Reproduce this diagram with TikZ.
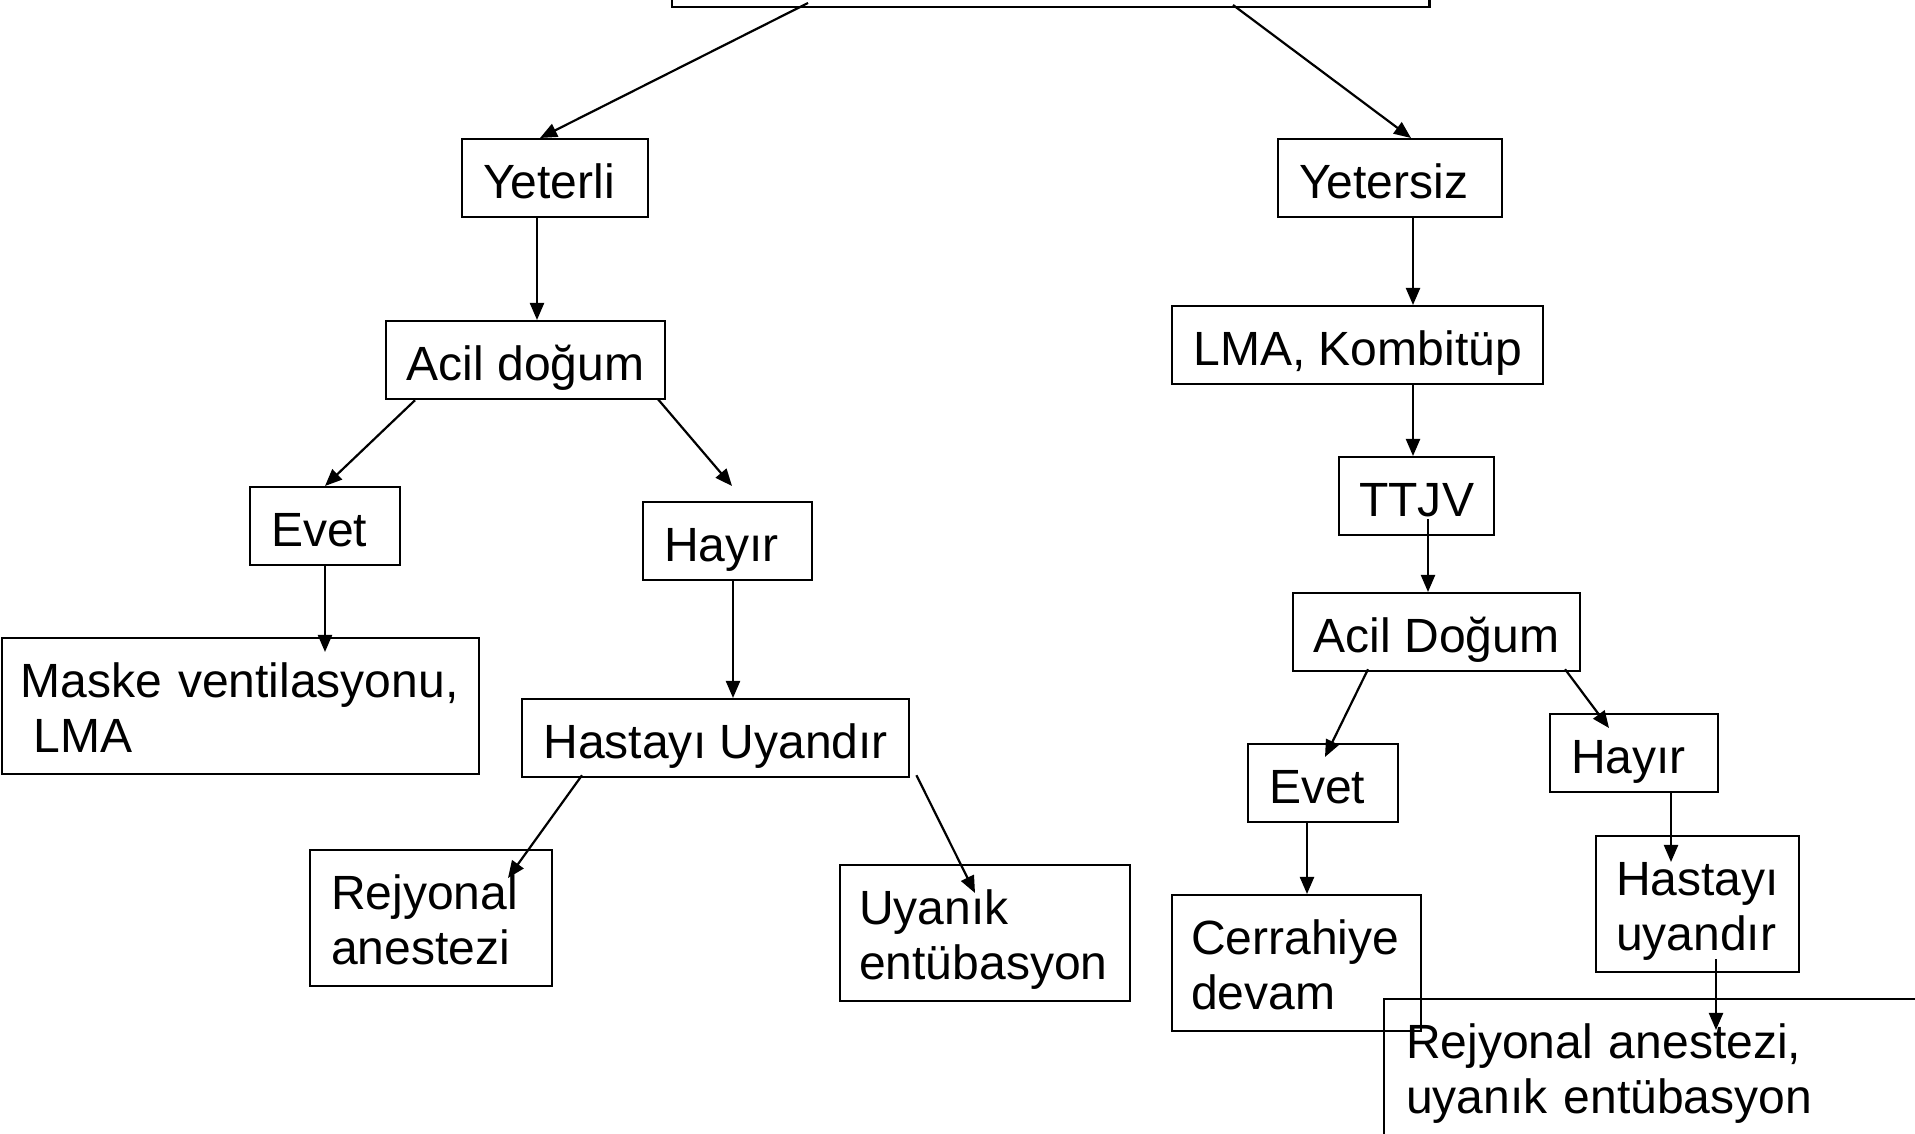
\documentclass[tikz,border=0pt]{standalone}
\usepackage{fontspec}
\setmainfont{Liberation Sans}
\usepackage{tikz}
\usetikzlibrary{arrows.meta,positioning,calc}

\begin{document}
\begin{tikzpicture}[x=0.01cm,y=-0.01cm,line width=0.022cm,
	>={Triangle[length=0.17cm,width=0.14cm]},
	box node/.style={draw,rectangle,anchor=north west,align=left,
		font=\fontsize{13.66pt}{15.65pt}\selectfont,
		inner xsep=0.1cm,inner ysep=0.19cm,text height=0.40cm,text depth=0cm},
	two line/.style={box node,inner ysep=0.21cm,text height=0.38cm,text depth=0.56cm},
	padded/.style={inner xsep=0.21cm,text width=#1}]

	\useasboundingbox (0,0) rectangle (1915,1134);
	\clip (0,0) rectangle (1915,1134);

	\node[draw,rectangle,anchor=south west,inner sep=0pt,
		minimum width=7.57cm,minimum height=0.78cm] (ust) at (671,8) {};

	\node[box node,padded=1.44cm] (yeterli) at (461,138) {Yeterli};
	\node[box node,padded=1.82cm] (yetersiz) at (1277,138) {Yetersiz};
	\node[box node,minimum width=2.79cm] (acil1) at (385,320) {Acil doğum};
	\node[box node,minimum width=3.71cm] (lma) at (1171,305) {LMA, Kombitüp};
	\node[box node,minimum width=1.55cm] (ttjv) at (1338,456) {TTJV};
	\node[box node,padded=1.08cm] (evet1) at (249,486) {Evet};
	\node[box node,padded=1.27cm] (hayir1) at (642,501) {Hayır};
	\node[two line,padded=4.40cm,inner xsep=0.185cm] (maske) at (1,637) {Maske ventilasyonu,\\\hspace*{0.13cm}LMA};
	\node[box node,minimum width=3.87cm] (hastayi1) at (521,698) {Hastayı Uyandır};
	\node[box node,minimum width=2.87cm] (acil2) at (1292,592) {Acil Doğum};
	\node[two line,padded=2.00cm] (rejyonal1) at (309,849) {Rejyonal\\anestezi};
	\node[two line,padded=2.52cm,inner xsep=0.19cm] (uyanik) at (839,864) {Uyanık\\entübasyon};
	\node[box node,padded=1.08cm] (evet2) at (1247,743) {Evet};
	\node[box node,padded=1.26cm] (hayir2) at (1549,713) {Hayır};
	\node[two line,padded=2.11cm,inner xsep=0.19cm] (cerrahiye) at (1171,894) {Cerrahiye\\devam};
	\node[two line,padded=1.63cm,inner xsep=0.20cm] (hastayi2) at (1595,835) {Hastayı\\uyandır};
	\node[two line,padded=5.2cm,inner xsep=0.22cm] (rejyonal2) at (1383,998) {Rejyonal anestezi,\\uyanık entübasyon};

	\path[->]
	($(ust.south west)+(137,-5)$) edge ($(yeterli.north west)+(79,0)$)
	($(ust.south west)+(562,-3)$) edge ($(yetersiz.north west)+(134,0)$)
	($(yeterli.south west)+(76,0)$) edge ($(acil1.north west)+(152,0)$)
	($(yetersiz.south west)+(136,0)$) edge ($(lma.north west)+(242,0)$)
	($(lma.south west)+(242,0)$) edge ($(ttjv.north west)+(75,0)$)
	($(ttjv.south west)+(90,-17)$) edge ($(acil2.north west)+(136,0)$)
	($(acil1.south west)+(30,0)$) edge ($(evet1.north west)+(76,0)$)
	($(acil1.south west)+(273,-1)$) edge ($(hayir1.north west)+(90,-15)$)
	($(evet1.south west)+(76,0)$) edge ($(maske.north west)+(324,15)$)
	($(hayir1.south west)+(91,0)$) edge ($(hastayi1.north west)+(212,0)$)
	($(hastayi1.south west)+(61,-3)$) edge ($(rejyonal1.north west)+(199,29)$)
	($(hastayi1.south east)+(6,-3)$) edge ($(uyanik.north west)+(136,29)$)
	($(acil2.south west)+(76,-3)$) edge ($(evet2.north west)+(78,14)$)
	($(acil2.south west)+(273,-3)$) edge ($(hayir2.north west)+(60,15)$)
	($(evet2.south west)+(60,0)$) edge ($(cerrahiye.north west)+(136,0)$)
	($(hayir2.south west)+(122,0)$) edge ($(hastayi2.north west)+(76,27)$)
	($(hastayi2.south west)+(121,-14)$) edge ($(rejyonal2.north west)+(333,32)$);

\end{tikzpicture}
\end{document}
